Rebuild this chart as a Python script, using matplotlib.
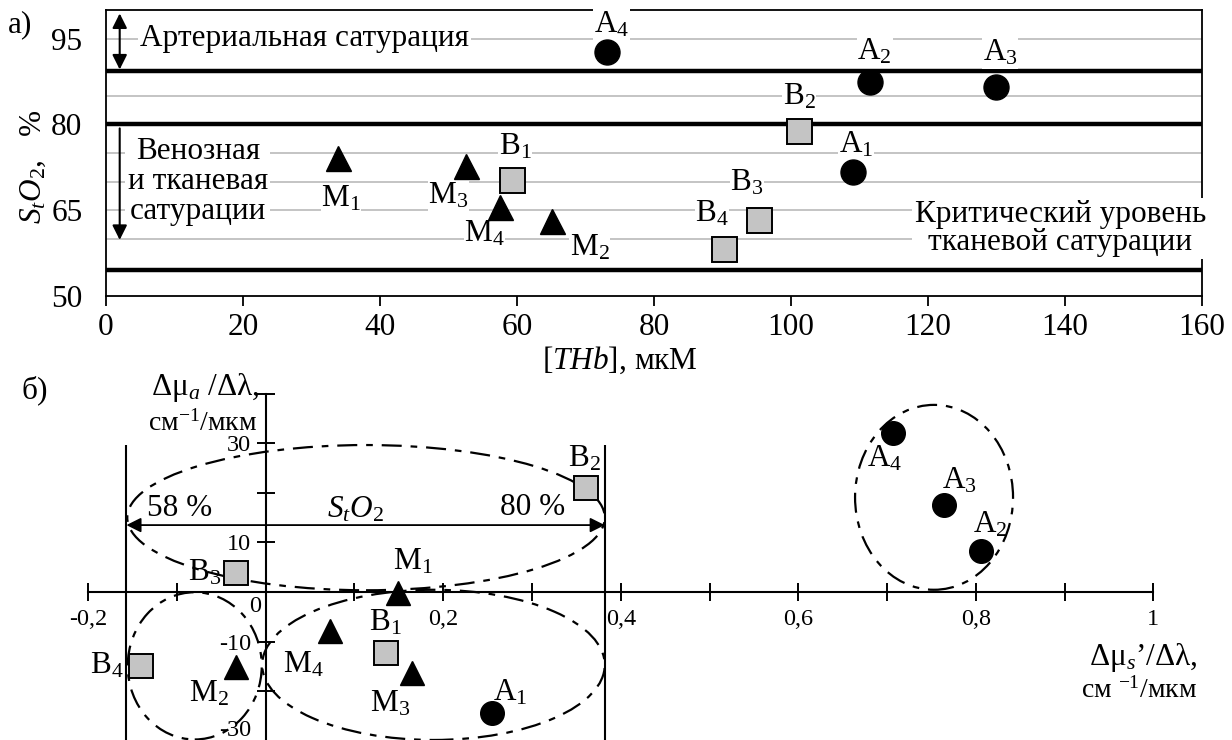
import matplotlib
matplotlib.use("Agg")
import matplotlib.pyplot as plt
from matplotlib.patches import Ellipse

plt.rcParams["font.family"] = "Liberation Serif"
plt.rcParams["mathtext.fontset"] = "custom"
plt.rcParams["mathtext.rm"] = "Liberation Serif"
plt.rcParams["mathtext.it"] = "Liberation Serif:italic"
plt.rcParams["mathtext.bf"] = "Liberation Serif:bold"

# Panel a: total haemoglobin vs tissue saturation
groups = ["A", "B", "M"]
thb = {
    "A": [109.1, 111.6, 129.9, 73.1],
    "B": [59.3, 101.2, 95.3, 90.2],
    "M": [33.9, 65.1, 52.6, 57.5],
}
sto2 = {
    "A": [71.7, 87.5, 86.5, 92.7],
    "B": [70.3, 78.8, 63.3, 58.3],
    "M": [74.2, 63.1, 72.8, 65.6],
}
zone_levels = [54.5, 80, 89.3]
grid_levels = [60, 65, 70, 75, 85, 95]

# Panel b: spectral slopes of scattering and absorption
dmus = {
    "A": [0.255, 0.806, 0.764, 0.707],
    "B": [0.135, 0.361, -0.034, -0.140],
    "M": [0.149, -0.034, 0.165, 0.072],
}
dmua = {
    "A": [-24.4, 8.3, 17.5, 32.1],
    "B": [-12.3, 21.0, 3.8, -14.9],
    "M": [-0.3, -15.2, -16.4, -7.8],
}
# cluster outlines: centre x, centre y, width, height
clusters = [
    (0.113, 15.0, 0.538, 29.3),
    (-0.080, -14.9, 0.151, 29.7),
    (0.189, -14.7, 0.386, 30.3),
    (0.753, 19.1, 0.178, 37.3),
]
sat_bounds = [-0.157, 0.382]
sat_labels = ["58 %", "80 %"]

# label offsets (points) for each point, panel a and panel b
off_a = {
    "A": [(2, 19.5), (3, 21.5), (3, 24.5), (3.5, 19.5)],
    "B": [(2, 24), (0, 24.5), (-8.5, 26.5), (-8.5, 25)],
    "M": [(2, -29.5), (27, -19), (-13, -22), (-11, -19.5)],
}
off_b = {
    "A": [(13, 14.5), (6.5, 18.5), (11, 18), (-6, -18.5)],
    "B": [(0, 21.5), (-1.5, 21), (-22, 0), (-25, 0)],
    "M": [(11, 23), (-19, -19), (-16, -22), (-19, -24.5)],
}

styles = {
    "A": dict(marker="o", color="black", mec="black"),
    "B": dict(marker="s", color="#c4c4c4", mec="black", mew=1.4),
    "M": dict(marker="^", color="black", mec="black"),
}

FS = 22.5
W, H = 1232, 740
fig = plt.figure(figsize=(W / 100, H / 100), dpi=100)


def fx(x, y):
    return x / W, 1 - y / H


# ---------- panel a ----------
ax1 = fig.add_axes([106 / W, 1 - 296 / H, (1202 - 106) / W, (296 - 10) / H])
ax1.set_xlim(0, 160)
ax1.set_ylim(50, 100)
for v in grid_levels:
    ax1.axhline(v, color="#b4b4b4", lw=1.1, zorder=1)
for v in zone_levels:
    ax1.axhline(v, color="black", lw=3.2, zorder=2)
for s in ax1.spines.values():
    s.set_linewidth(1.3)
ax1.set_xticks(range(0, 161, 20))
ax1.set_yticks([50, 65, 80, 95])
ax1.tick_params(axis="x", direction="out", length=7, width=1.3, labelsize=FS, pad=5)
ax1.tick_params(axis="y", length=0, labelsize=FS, pad=17)

for g in groups:
    ax1.plot(thb[g], sto2[g], ls="none", ms=18, zorder=5, **styles[g])
    for i, (x, y) in enumerate(zip(thb[g], sto2[g])):
        ax1.annotate(r"$\mathrm{%s}_%d$" % (g, i + 1), (x, y),
                     xytext=off_a[g][i], textcoords="offset points",
                     ha="center", va="center", fontsize=FS, zorder=4,
                     bbox=dict(fc="white", ec="none", pad=0.5))

box = dict(fc="white", ec="none", pad=1.5)
ax1.text(5, 95, "Артериальная сатурация", fontsize=FS, ha="left",
         va="center", bbox=box, zorder=3)
ax1.text(13.4, 70.0, "Венозная\nи тканевая\nсатурации", fontsize=FS,
         ha="center", va="center", linespacing=1.05, bbox=box, zorder=3)
ax1.text(139.3, 61.8, "Критический уровень\nтканевой сатурации",
         fontsize=FS, ha="center", va="center", linespacing=0.95,
         bbox=box, zorder=3)
ax1.annotate("", xy=(2, 99.4), xytext=(2, 89.6),
             arrowprops=dict(arrowstyle="<|-|>", color="black", lw=1.5,
                             mutation_scale=22, shrinkA=0, shrinkB=0),
             zorder=4)
ax1.annotate("", xy=(2, 59.8), xytext=(2, 79.3),
             arrowprops=dict(arrowstyle="-|>", color="black", lw=1.5,
                             mutation_scale=22, shrinkA=0, shrinkB=0),
             zorder=4)

fig.text(*fx(20, 25), "а)", fontsize=FS, ha="center", va="center")
fig.text(*fx(33, 167), r"$S_tO_2$,   %", fontsize=FS, rotation=90,
         ha="center", va="center")
fig.text(*fx(620, 360), r"[$\mathit{THb}$], мкМ", fontsize=FS,
         ha="center", va="center")

# ---------- panel b ----------
ax2 = fig.add_axes([0, -2.2 / H, 1, 362.2 / H])
ax2.set_facecolor("none")
ax2.set_xlim(-0.2994, 1.0887)
ax2.set_ylim(-30.3, 42.77)
for side in ["top", "right"]:
    ax2.spines[side].set_visible(False)
ax2.spines["left"].set_position(("data", 0))
ax2.spines["bottom"].set_position(("data", 0))
ax2.spines["left"].set_bounds(-30.3, 40)
ax2.spines["bottom"].set_bounds(-0.2, 1.0)
for s in ax2.spines.values():
    s.set_linewidth(1.5)

ax2.set_xticks([-0.2, 0, 0.2, 0.4, 0.6, 0.8, 1.0])
ax2.set_xticklabels(["-0,2", "", "0,2", "0,4", "0,6", "0,8", "1"])
ax2.set_xticks([-0.1, 0.1, 0.3, 0.5, 0.7, 0.9], minor=True)
ax2.set_yticks([-30, -20, -10, 0, 10, 20, 30, 40])
ax2.set_yticklabels(["-30", "", "-10", "", "10", "", "30", ""])
ax2.tick_params(which="both", direction="inout", length=13, width=1.4,
                labelsize=17.5)
ax2.tick_params(axis="x", pad=6)
ax2.tick_params(axis="y", pad=4)
ax2.get_yticklabels()[0].set_va("bottom")
ax2.text(-0.012, -3.0, "0", fontsize=17.5, ha="center", va="center")

for cx, cy, w, h in clusters:
    ax2.add_patch(Ellipse((cx, cy), w, h, fill=False, color="black",
                          lw=1.6, ls=(0, (9, 4, 3, 4)), zorder=3))

ax2.vlines(sat_bounds, -31, 29.7, color="black", lw=1.5, zorder=2)
ax2.annotate("", xy=(sat_bounds[0], 13.5), xytext=(sat_bounds[1], 13.5),
             arrowprops=dict(arrowstyle="<|-|>", color="black", lw=1.3,
                             mutation_scale=22, shrinkA=0, shrinkB=0))
ax2.text(-0.0966, 16.9, sat_labels[0], fontsize=FS, ha="center", va="center")
ax2.text(0.301, 17.1, sat_labels[1], fontsize=FS, ha="center", va="center")
ax2.text(0.1006, 16.6, r"$S_tO_2$", fontsize=FS, ha="center", va="center")

for g in groups:
    ax2.plot(dmus[g], dmua[g], ls="none", ms=17, zorder=5, **styles[g])
    for i, (x, y) in enumerate(zip(dmus[g], dmua[g])):
        ax2.annotate(r"$\mathrm{%s}_%d$" % (g, i + 1), (x, y),
                     xytext=off_b[g][i], textcoords="offset points",
                     ha="center", va="center", fontsize=FS, zorder=6)

fig.text(*fx(35, 390), "б)", fontsize=FS, ha="center", va="center")
fig.text(*fx(205, 387), r"Δμ$_a$ /Δλ,", fontsize=FS, ha="center", va="center")
fig.text(*fx(203, 423), r"см$^{-1}$/мкм", fontsize=20, ha="center", va="center")
fig.text(*fx(1143, 657), r"Δμ$_s$’/Δλ,", fontsize=FS, ha="center", va="center")
fig.text(*fx(1139, 690), r"см $^{-1}$/мкм", fontsize=20, ha="center", va="center")

fig.savefig("out.png", dpi=100)
